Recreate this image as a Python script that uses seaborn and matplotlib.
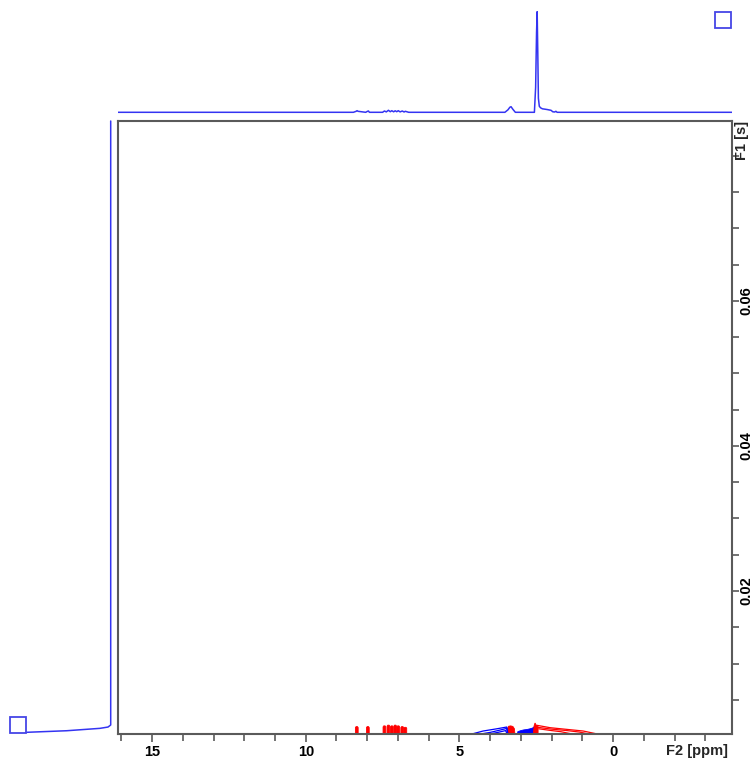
import numpy as np
import pandas as pd
import matplotlib
matplotlib.use("Agg")
import matplotlib.pyplot as plt
from matplotlib.patches import Rectangle
from matplotlib.ticker import MultipleLocator, FixedLocator, FuncFormatter
import seaborn as sns

# ---------------- data ----------------
# F2 projection (top 1D spectrum): chemical shift (ppm) and intensity
top_ppm = [16.11, 8.45, 8.36, 8.33, 8.30, 8.05, 7.99, 7.96, 7.93, 7.50, 7.44, 7.38,
           7.31, 7.25, 7.20, 7.14, 7.09, 7.04, 6.99, 6.93, 6.86, 6.80, 6.76, 6.65,
           3.52, 3.42, 3.36, 3.32, 3.26, 3.18, 2.56, 2.52, 2.49, 2.47, 2.45, 2.43,
           2.40, 2.36, 2.30, 2.15, 2.02, 1.96, 1.90, 1.86, 1.82, -3.87]
top_int = [0, 0, 1.0, 1.6, 1.0, 0, 1.0, 1.3, 0, 0, 1.3, 0.4,
           2.0, 0.6, 1.6, 0.5, 1.5, 0.6, 1.6, 0.4, 1.3, 0.3, 1.0, 0,
           0, 2.5, 5.0, 5.6, 3.0, 0, 0, 25, 80, 100.6, 60, 14,
           6, 4.5, 3.5, 2.8, 2.0, 0.5, 0.3, 1.0, 0, 0]

# F1 projection (left): F1 (s) and intensity
left_f1 = [0.0848, 0.00152, 0.00124, 0.00106, 0.00073, 0.00051]
left_int = [0, 0, 2.7, 10.7, 44, 84.7]

# red aromatic cross peaks: centre (ppm) and top (s)
red_bar_ppm = [8.34, 7.98, 7.44, 7.31, 7.20, 7.09, 6.99, 6.86, 6.76]
red_bar_f1 = [0.0013, 0.0013, 0.0014, 0.0015, 0.0014, 0.0015, 0.0014, 0.0013, 0.0012]

# blue contour outlines (4.6 - 3.4 ppm)
blue_loop1_ppm = [4.62, 4.23, 3.78, 3.46, 3.42]
blue_loop1_f1 = [0.00025, 0.00069, 0.00100, 0.00124, 0.00025]
blue_loop2_ppm = [4.35, 4.00, 3.70, 3.46, 3.43]
blue_loop2_f1 = [0.00025, 0.00050, 0.00080, 0.00105, 0.00025]
blue_loop3_ppm = [4.05, 3.75, 3.50, 3.44]
blue_loop3_f1 = [0.00025, 0.00050, 0.00075, 0.00025]
# blue filled contour (3.1 - 2.55 ppm)
blue_fill_ppm = [3.12, 3.10, 3.00, 2.90, 2.80, 2.70, 2.62, 2.56, 2.55]
blue_fill_f1 = [0.0, 0.00060, 0.00075, 0.00085, 0.00090, 0.00100, 0.00110, 0.00130, 0.0]

# red filled contours
red_blob_ppm = [3.46, 3.44, 3.40, 3.33, 3.26, 3.21, 3.19]
red_blob_f1 = [0.0, 0.0010, 0.00135, 0.00140, 0.00132, 0.0010, 0.0]
red_spike_ppm = [2.60, 2.57, 2.54, 2.50, 2.44, 2.44]
red_spike_f1 = [0.0, 0.0014, 0.00180, 0.0015, 0.0013, 0.0]
# red contour outlines (2.5 - 0.5 ppm)
red_loop1_ppm = [2.48, 2.05, 1.51, 0.97, 0.48]
red_loop1_f1 = [0.00148, 0.00115, 0.00092, 0.00069, 0.00025]
red_loop2_ppm = [2.45, 2.00, 1.50, 1.10, 0.75]
red_loop2_f1 = [0.00120, 0.00095, 0.00075, 0.00055, 0.00025]
red_loop3_ppm = [2.42, 2.00, 1.70, 1.30]
red_loop3_f1 = [0.00100, 0.00075, 0.00060, 0.00025]

x_major = [15, 10, 5, 0]
y_major = [0.02, 0.04, 0.06]

# ---------------- style ----------------
sns.set_theme(style="white")
plt.rcParams['font.family'] = ['Liberation Sans', 'DejaVu Sans']
plt.rcParams['font.weight'] = 'bold'

W, H = 754, 758
fig = plt.figure(figsize=(W / 100, H / 100), dpi=100)
fig.patch.set_facecolor('white')

def rect(x0, y0, x1, y1):
    # pixel box (top-left origin) -> figure fraction
    return [x0 / W, 1 - y1 / H, (x1 - x0) / W, (y1 - y0) / H]

XL = (16.11, -3.87)
YL = (0.00028, 0.0848)
SPEC = "#3434f2"
FRAME = "#5a5a5a"
FS = 10.5

ax = fig.add_axes(rect(118, 121, 732, 734))
ax_top = fig.add_axes(rect(118, 0, 732, 117))
ax_left = fig.add_axes(rect(0, 121, 116, 734))

# ---- main 2D plot ----
for c, h in zip(red_bar_ppm, red_bar_f1):
    w = 0.045
    px = [c + w, c + w, c + w * 0.5, c - w * 0.5, c - w, c - w]
    py = [0.0, h * 0.9, h, h, h * 0.9, 0.0]
    ax.fill(px, py, color="red", lw=0.6, ec="red")

ax.fill(blue_fill_ppm, blue_fill_f1, color="blue", lw=0.6, ec="blue")
ax.fill(red_blob_ppm, red_blob_f1, color="red", lw=0.6, ec="red")
ax.fill(red_spike_ppm, red_spike_f1, color="red", lw=0.6, ec="red")

for xs, ys in [(blue_loop1_ppm, blue_loop1_f1), (blue_loop2_ppm, blue_loop2_f1),
               (blue_loop3_ppm, blue_loop3_f1)]:
    sns.lineplot(x=xs, y=ys, ax=ax, color="blue", lw=0.9, sort=False,
                 estimator=None, legend=False)
for xs, ys in [(red_loop1_ppm, red_loop1_f1), (red_loop2_ppm, red_loop2_f1),
               (red_loop3_ppm, red_loop3_f1)]:
    sns.lineplot(x=xs, y=ys, ax=ax, color="red", lw=0.9, sort=False,
                 estimator=None, legend=False)

ax.set_xlim(*XL)
ax.set_ylim(*YL)
ax.set_xlabel("")
ax.set_ylabel("")
ax.grid(False)
for s in ax.spines.values():
    s.set_color(FRAME)
    s.set_linewidth(1.5)
ax.xaxis.set_major_locator(FixedLocator(x_major))
ax.xaxis.set_minor_locator(MultipleLocator(1))
ax.xaxis.set_major_formatter(FuncFormatter(lambda v, p: f"{v:g}"))
ax.yaxis.tick_right()
ax.yaxis.set_major_locator(FixedLocator(y_major))
ax.yaxis.set_minor_locator(MultipleLocator(0.005))
ax.yaxis.set_major_formatter(FuncFormatter(lambda v, p: f"{v:.2f}"))
ax.tick_params(axis='both', which='both', direction='out', color=FRAME,
               width=1.2, labelsize=FS, labelcolor='black')
ax.tick_params(axis='x', which='major', length=6, pad=1.8, bottom=True)
ax.tick_params(axis='x', which='minor', length=5, bottom=True)
ax.tick_params(axis='y', which='major', length=5, pad=0, right=True, left=False)
ax.tick_params(axis='y', which='minor', length=5, right=True, left=False)
for lab in ax.get_yticklabels():
    lab.set_rotation(90)
    lab.set_va('center')
for lab in ax.get_xticklabels() + ax.get_yticklabels():
    lab.set_fontweight('bold')

fig.text(697 / W, 1 - 751.5 / H, "F2 [ppm]", ha='center', va='center',
         fontsize=FS, fontweight='bold')
fig.text(742 / W, 1 - 140 / H, "F1 [s]", ha='center', va='center',
         rotation=90, fontsize=FS, fontweight='bold')

# ---- top projection ----
sns.lineplot(x=top_ppm, y=top_int, ax=ax_top, color=SPEC, lw=1.1, sort=False,
             estimator=None, legend=False)
ax_top.set_xlim(*XL)
ax_top.set_ylim(-4.7, 112.3)
ax_top.axis('off')

# ---- left projection ----
sns.lineplot(x=left_int, y=left_f1, ax=ax_left, color=SPEC, lw=1.1, sort=False,
             estimator=None, legend=False, orient='y')
ax_left.set_xlim(110.7, -5.3)
ax_left.set_ylim(*YL)
ax_left.axis('off')
for ln in ax_left.lines:
    ln.set_clip_on(False)

# ---- frame icons (squares) ----
for (x0, y0) in [(10, 717), (715, 12)]:
    fig.patches.append(Rectangle((x0 / W, 1 - (y0 + 16) / H), 16 / W, 16 / H,
                                 transform=fig.transFigure, fill=False,
                                 ec="#4545e6", lw=1.3))

fig.savefig("out.png", dpi=100, facecolor='white')
